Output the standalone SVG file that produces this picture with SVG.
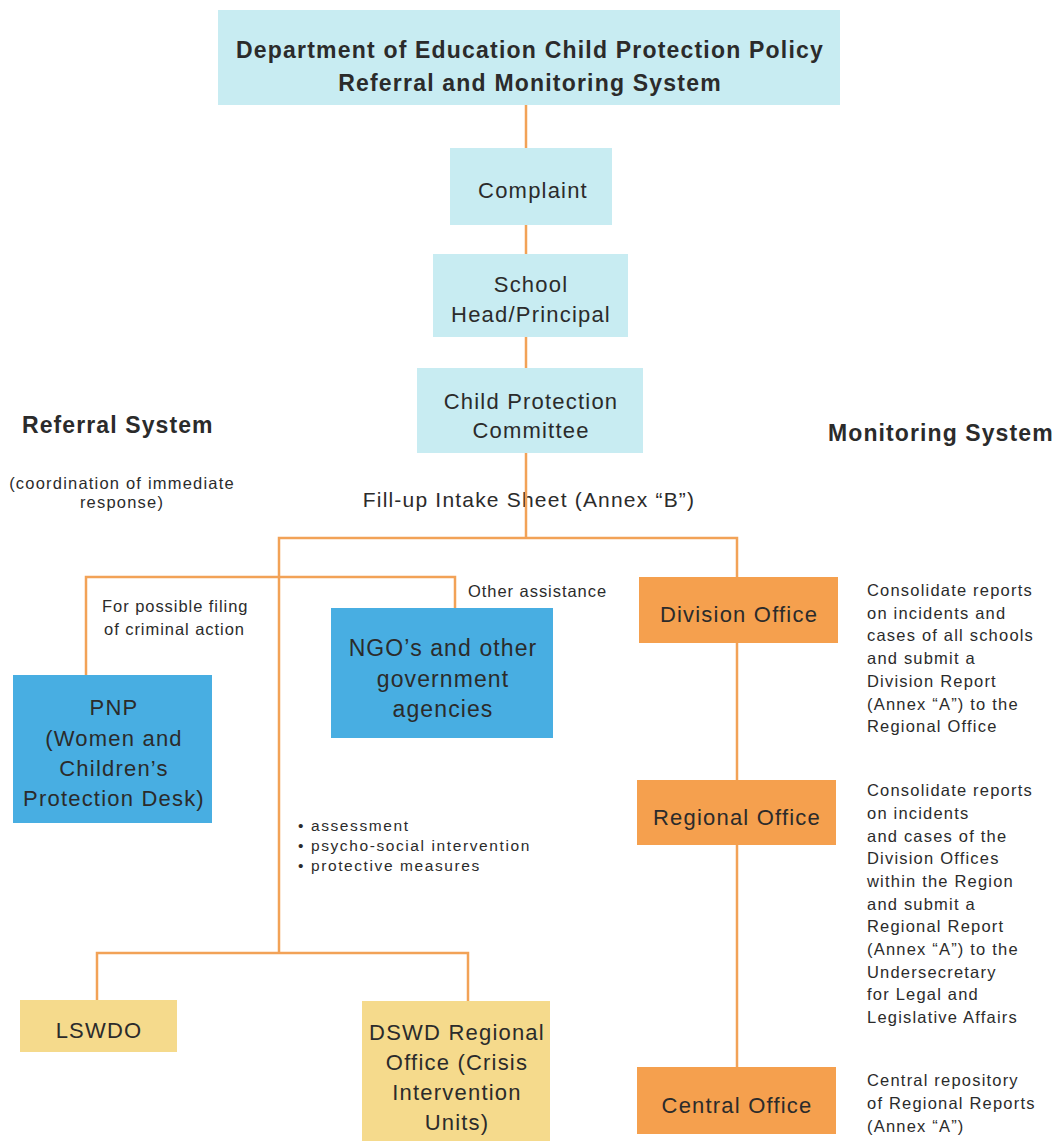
<svg xmlns="http://www.w3.org/2000/svg" width="1058" height="1141" viewBox="0 0 1058 1141">
<style>
text{font-family:"Liberation Sans",Arial,Helvetica,sans-serif;fill:#2b2b2b}
.t{font-size:23px;font-weight:bold;letter-spacing:1.2px;text-anchor:middle}
.n{font-size:22px;letter-spacing:1.2px;text-anchor:middle}
.ng{font-size:23px;letter-spacing:1.1px;text-anchor:middle}
.h{font-size:23px;font-weight:bold;letter-spacing:1.1px}
.s{font-size:16.5px;letter-spacing:0.95px}
.sc{font-size:16.5px;letter-spacing:1.2px;text-anchor:middle}
.d{font-size:16.5px;letter-spacing:1.2px}
.b{font-size:15.5px;letter-spacing:1.6px}
.f{font-size:21px;letter-spacing:1.2px;text-anchor:middle}
.cyan{fill:#c8ecf2}
.blue{fill:#48aee2}
.orange{fill:#f5a04e}
.yellow{fill:#f5da8c}
.c{stroke:#f2a257;stroke-width:2.5;fill:none}
</style>

<g id="labels">
<text class="h" x="22" y="433">Referral System</text>
<text class="sc" x="122" y="489">(coordination of immediate</text>
<text class="sc" x="122" y="508">response)</text>
<text class="h" x="828" y="441">Monitoring System</text>
<text class="f" x="529" y="507">Fill-up Intake Sheet (Annex “B”)</text>
<text class="s" x="102" y="612">For possible filing</text>
<text class="s" x="104" y="635">of criminal action</text>
<text class="s" x="468" y="597">Other assistance</text>
<text class="b" x="298" y="831">• assessment</text>
<text class="b" x="298" y="851">• psycho-social intervention</text>
<text class="b" x="298" y="871">• protective measures</text>
</g>

<g id="connectors">
<line class="c" x1="526" y1="105" x2="526" y2="148"/>
<line class="c" x1="526" y1="225" x2="526" y2="254"/>
<line class="c" x1="526" y1="337" x2="526" y2="368"/>
<polyline class="c" points="526,453 526,538"/>
<polyline class="c" points="279,953 279,538 737,538 737,577"/>
<polyline class="c" points="86,675 86,577 455,577 455,608"/>
<polyline class="c" points="97,1000 97,953 468,953 468,1001"/>
<line class="c" x1="737" y1="643" x2="737" y2="780"/>
<line class="c" x1="737" y1="845" x2="737" y2="1067"/>
</g>

<g id="title">
<rect class="cyan" x="218" y="10" width="622" height="95"/>
<text class="t" x="530" y="58">Department of Education Child Protection Policy</text>
<text class="t" x="530" y="91">Referral and Monitoring System</text>
</g>

<g id="complaint">
<rect class="cyan" x="450" y="148" width="162" height="77"/>
<text class="n" x="533" y="198">Complaint</text>
</g>

<g id="school-head">
<rect class="cyan" x="433" y="254" width="195" height="83"/>
<text class="n" x="531" y="292">School</text>
<text class="n" x="531" y="322">Head/Principal</text>
</g>

<g id="cpc">
<rect class="cyan" x="417" y="368" width="226" height="85"/>
<text class="n" x="531" y="409">Child Protection</text>
<text class="n" x="531" y="438">Committee</text>
</g>

<g id="pnp">
<rect class="blue" x="13" y="675" width="199" height="148"/>
<text class="n" x="114" y="715">PNP</text>
<text class="n" x="114" y="746">(Women and</text>
<text class="n" x="114" y="776">Children’s</text>
<text class="n" x="114" y="806">Protection Desk)</text>
</g>

<g id="ngo">
<rect class="blue" x="331" y="608" width="222" height="130"/>
<text class="ng" x="443" y="656">NGO’s and other</text>
<text class="ng" x="443" y="687">government</text>
<text class="ng" x="443" y="717">agencies</text>
</g>

<g id="lswdo">
<rect class="yellow" x="20" y="1000" width="157" height="52"/>
<text class="n" x="99" y="1038">LSWDO</text>
</g>

<g id="dswd">
<rect class="yellow" x="362" y="1001" width="188" height="140"/>
<text class="n" x="457" y="1040">DSWD Regional</text>
<text class="n" x="457" y="1070">Office (Crisis</text>
<text class="n" x="457" y="1100">Intervention</text>
<text class="n" x="457" y="1130">Units)</text>
</g>

<g id="division-office">
<rect class="orange" x="639" y="577" width="199" height="66"/>
<text class="n" x="739" y="622">Division Office</text>
<text class="d" x="867" y="596">Consolidate reports</text>
<text class="d" x="867" y="619">on incidents and</text>
<text class="d" x="867" y="641">cases of all schools</text>
<text class="d" x="867" y="664">and submit a</text>
<text class="d" x="867" y="687">Division Report</text>
<text class="d" x="867" y="710">(Annex “A”) to the</text>
<text class="d" x="867" y="732">Regional Office</text>
</g>

<g id="regional-office">
<rect class="orange" x="637" y="780" width="199" height="65"/>
<text class="n" x="737" y="825">Regional Office</text>
<text class="d" x="867" y="796">Consolidate reports</text>
<text class="d" x="867" y="819">on incidents</text>
<text class="d" x="867" y="842">and cases of the</text>
<text class="d" x="867" y="864">Division Offices</text>
<text class="d" x="867" y="887">within the Region</text>
<text class="d" x="867" y="910">and submit a</text>
<text class="d" x="867" y="932">Regional Report</text>
<text class="d" x="867" y="955">(Annex “A”) to the</text>
<text class="d" x="867" y="978">Undersecretary</text>
<text class="d" x="867" y="1000">for Legal and</text>
<text class="d" x="867" y="1023">Legislative Affairs</text>
</g>

<g id="central-office">
<rect class="orange" x="637" y="1067" width="199" height="67"/>
<text class="n" x="737" y="1113">Central Office</text>
<text class="d" x="867" y="1086">Central repository</text>
<text class="d" x="867" y="1109">of Regional Reports</text>
<text class="d" x="867" y="1132">(Annex “A”)</text>
</g>
</svg>
